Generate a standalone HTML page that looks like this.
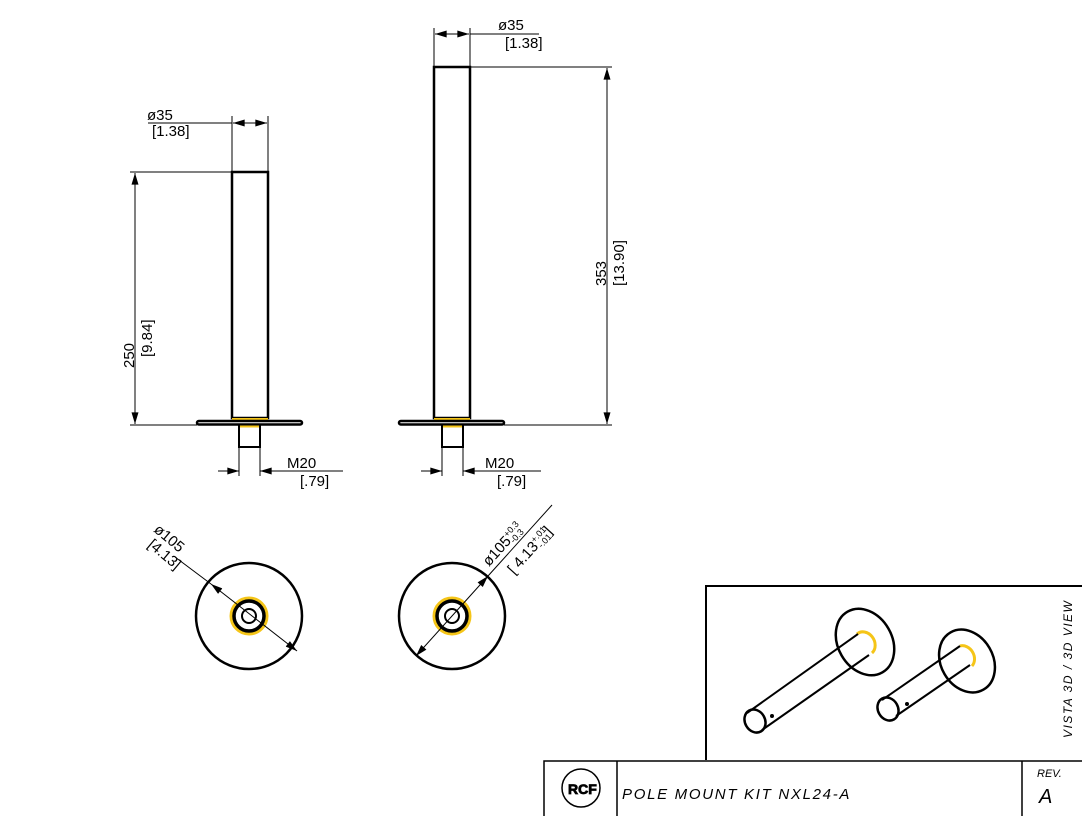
<!DOCTYPE html>
<html><head><style>body{margin:0;background:#fff}svg{display:block}text{font-family:"Liberation Sans",sans-serif;fill:#000}</style></head>
<body>
<svg width="1082" height="816" viewBox="0 0 1082 816" xmlns="http://www.w3.org/2000/svg">
<defs>
<marker id="a" viewBox="0 0 10 6" refX="10" refY="3" markerWidth="14" markerHeight="7" markerUnits="userSpaceOnUse" orient="auto-start-reverse"><path d="M0,0L10,3L0,6z" fill="#000"/></marker>
</defs>
<g stroke="#000" fill="none">
<rect x="232" y="172" width="36" height="246" stroke-width="2.5"/>
<line x1="232" y1="419.5" x2="268" y2="419.5" stroke="#f5c518" stroke-width="3"/>
<rect x="197" y="421" width="105" height="3.5" rx="1.8" stroke-width="2.5"/>
<rect x="239" y="425" width="21" height="22" stroke-width="2"/>
<line x1="240" y1="426.5" x2="259" y2="426.5" stroke="#f5c518" stroke-width="2"/>
<rect x="434" y="67" width="36" height="351" stroke-width="2.5"/>
<line x1="434" y1="419.5" x2="470" y2="419.5" stroke="#f5c518" stroke-width="3"/>
<rect x="399" y="421" width="105" height="3.5" rx="1.8" stroke-width="2.5"/>
<rect x="442" y="425" width="21" height="22" stroke-width="2"/>
<line x1="443" y1="426.5" x2="462" y2="426.5" stroke="#f5c518" stroke-width="2"/>
<g stroke-width="1">
<line x1="130" y1="172" x2="232" y2="172"/>
<line x1="130" y1="425" x2="197" y2="425"/>
<line x1="135" y1="173" x2="135" y2="424" marker-start="url(#a)" marker-end="url(#a)"/>
<line x1="232" y1="116" x2="232" y2="172"/>
<line x1="268" y1="116" x2="268" y2="172"/>
<line x1="148" y1="123" x2="232" y2="123"/>
<line x1="233" y1="123" x2="267" y2="123" marker-start="url(#a)" marker-end="url(#a)"/>
<line x1="239" y1="447" x2="239" y2="476"/>
<line x1="260" y1="447" x2="260" y2="476"/>
<line x1="218" y1="471" x2="239" y2="471" marker-end="url(#a)"/>
<line x1="343" y1="471" x2="260" y2="471" marker-end="url(#a)"/>
<line x1="470" y1="67" x2="612" y2="67"/>
<line x1="504" y1="425" x2="612" y2="425"/>
<line x1="607" y1="68" x2="607" y2="424" marker-start="url(#a)" marker-end="url(#a)"/>
<line x1="434" y1="28" x2="434" y2="67"/>
<line x1="470" y1="28" x2="470" y2="67"/>
<line x1="435" y1="34" x2="469" y2="34" marker-start="url(#a)" marker-end="url(#a)"/>
<line x1="470" y1="34" x2="539" y2="34"/>
<line x1="442" y1="447" x2="442" y2="476"/>
<line x1="463" y1="447" x2="463" y2="476"/>
<line x1="421" y1="471" x2="442" y2="471" marker-end="url(#a)"/>
<line x1="541" y1="471" x2="463" y2="471" marker-end="url(#a)"/>
</g>
<circle cx="249" cy="616" r="53" stroke-width="2.5"/>
<circle cx="249" cy="616" r="18" stroke="#f5c518" stroke-width="3"/>
<circle cx="249" cy="616" r="15" stroke-width="3.5"/>
<circle cx="249" cy="616" r="7" stroke-width="2"/>
<line x1="175" y1="557" x2="211" y2="584" stroke-width="1"/>
<line x1="211" y1="584" x2="297" y2="651" stroke-width="1" marker-start="url(#a)" marker-end="url(#a)"/>
<circle cx="452" cy="616" r="53" stroke-width="2.5"/>
<circle cx="452" cy="616" r="18" stroke="#f5c518" stroke-width="3"/>
<circle cx="452" cy="616" r="15" stroke-width="3.5"/>
<circle cx="452" cy="616" r="7" stroke-width="2"/>
<line x1="416" y1="656" x2="488" y2="576" stroke-width="1" marker-start="url(#a)" marker-end="url(#a)"/>
<line x1="488" y1="576" x2="552" y2="505" stroke-width="1"/>
<polyline points="706,760 706,586 1082,586" stroke-width="2"/>
<ellipse cx="865" cy="642" rx="27" ry="35" transform="rotate(-30 865 642)" stroke-width="2.5"/>
<path d="M857,634 A10,12 -30 0 1 872,653" stroke="#f5c518" stroke-width="3"/>
<line x1="747" y1="713" x2="858" y2="634" stroke-width="2"/>
<line x1="762" y1="730" x2="869" y2="655" stroke-width="2"/>
<ellipse cx="755" cy="721" rx="10" ry="12" transform="rotate(-30 755 721)" stroke-width="2.5"/>
<circle cx="772" cy="716" r="1.5" fill="#000"/>
<ellipse cx="967" cy="661" rx="26" ry="33" transform="rotate(-30 967 661)" stroke-width="2.5"/>
<path d="M960,646 A10,12 -30 0 1 972,666" stroke="#f5c518" stroke-width="3"/>
<line x1="882" y1="700" x2="960" y2="646" stroke-width="2"/>
<line x1="896" y1="716" x2="970" y2="665" stroke-width="2"/>
<ellipse cx="888" cy="709" rx="10" ry="12" transform="rotate(-30 888 709)" stroke-width="2.5"/>
<circle cx="907" cy="704" r="1.5" fill="#000"/>
<rect x="544" y="761" width="540" height="60" stroke-width="1.5"/>
<line x1="617" y1="761" x2="617" y2="816" stroke-width="1.5"/>
<line x1="1022" y1="761" x2="1022" y2="816" stroke-width="1.5"/>
<circle cx="581" cy="788" r="19" stroke-width="1.5"/>
</g>
<g font-size="15">
<text x="147" y="120">ø35</text><text x="152" y="136">[1.38]</text>
<text x="498" y="30">ø35</text><text x="505" y="48">[1.38]</text>
<text x="287" y="468">M20</text><text x="300" y="486">[.79]</text>
<text x="485" y="468">M20</text><text x="497" y="486">[.79]</text>
<text transform="translate(134,368) rotate(-90)">250</text>
<text transform="translate(152,357) rotate(-90)">[9.84]</text>
<text transform="translate(606,286) rotate(-90)">353</text>
<text transform="translate(624,286) rotate(-90)">[13.90]</text>
<text transform="translate(153,531) rotate(40)">ø105</text>
<text transform="translate(147,546) rotate(40)">[4.13]</text>
<text transform="translate(489,567) rotate(-48)">ø105<tspan font-size="9" dy="-6">+0.3</tspan><tspan font-size="9" dx="-18" dy="9">-0.3</tspan></text>
<text transform="translate(514,575) rotate(-48)">[ 4.13<tspan font-size="9" dy="-6">+.01</tspan><tspan font-size="9" dx="-17" dy="9">-.01</tspan><tspan dy="-3">]</tspan></text>
</g>
<text x="568" y="794" font-size="14" font-weight="bold" fill="#fff" stroke="#000" stroke-width="0.8">RCF</text>
<text x="622" y="799" font-size="15" font-style="italic" letter-spacing="1.7">POLE MOUNT KIT NXL24-A</text>
<text x="1037" y="777" font-size="11" font-style="italic">REV.</text>
<text x="1039" y="803" font-size="20" font-style="italic">A</text>
<text transform="translate(1072,738) rotate(-90)" font-size="12" font-style="italic" letter-spacing="1.5">VISTA 3D / 3D VIEW</text>
</svg>
</body></html>
